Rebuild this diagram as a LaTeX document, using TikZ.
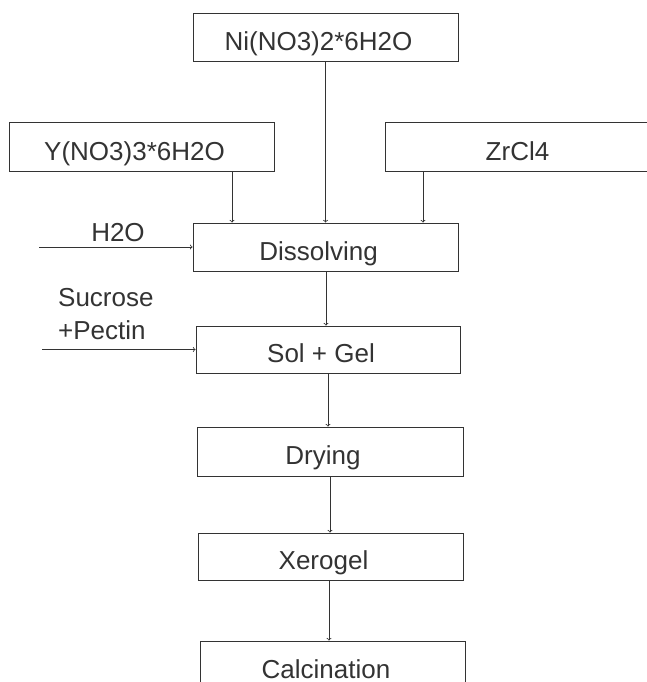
\documentclass[tikz,border=0pt]{standalone}
\usepackage{fontspec}
\setmainfont{Liberation Sans}
\definecolor{ink}{HTML}{333333}
\tikzset{
  box/.style={draw=ink, line width=1pt, minimum width=265pt, minimum height=48pt,
    inner sep=0pt, text=ink, font=\fontsize{26}{33}\selectfont,
    text height=31pt, text depth=5pt,
    execute at end node={\hspace*{14pt}}},
  lbl/.style={text=ink, inner sep=0pt, font=\fontsize{26}{33}\selectfont},
  feed/.style={draw=ink, line width=0.8pt, ->}
}
\begin{document}
\begin{tikzpicture}[x=1pt, y=-1pt]
            \useasboundingbox (0, 0) rectangle (647, 682);
            \clip (0, 0) rectangle (647, 682);

            %%salts
            \node[box] at(325.5, 38)(ni){Ni(NO3)2*6H2O};
            \node[box] at(141.5, 147)(yn){Y(NO3)3*6H2O};
            \node[box] at(517.5, 147)(zr){\hspace*{14pt}ZrCl4};

            %%steps
            \node[box] at(325.5, 247)(dis){Dissolving};
            \node[box, minimum width=264pt, minimum height=47pt] at(328, 349.5)(sol){Sol + Gel};
            \node[box, minimum width=266pt, minimum height=49pt] at(330, 451.5)(dry){Drying};
            \node[box, minimum height=47pt] at(330.5, 556.5)(xer){Xerogel};
            \node[box] at(333, 665)(cal){Calcination};

            %%side feeds
            \node[lbl] at(118, 233)(h2o){H2O};
            \node[lbl, align=left, anchor=west] at(58, 314)(suc){Sucrose\\+Pectin};
            \coordinate (w1) at(39, 247);
            \coordinate (w2) at(42, 349.5);

            %%arrows
            \draw[feed] (ni) -- (dis);
            \draw[feed] (yn.south -| 232, 0) -- (dis.north -| 232, 0);
            \draw[feed] (zr.south -| 423, 0) -- (dis.north -| 423, 0);
            \draw[feed] (w1) -- (dis.west);
            \draw[feed] (w2) -- (sol.west);

            \draw[feed] (dis.south -| 326, 0) -- (sol.north -| 326, 0);
            \draw[feed] (sol.south -| 328, 0) -- (dry.north -| 328, 0);
            \draw[feed] (dry.south -| 330, 0) -- (xer.north -| 330, 0);
            \draw[feed] (xer.south -| 329, 0) -- (cal.north -| 329, 0);
        \end{tikzpicture}
\end{document}
